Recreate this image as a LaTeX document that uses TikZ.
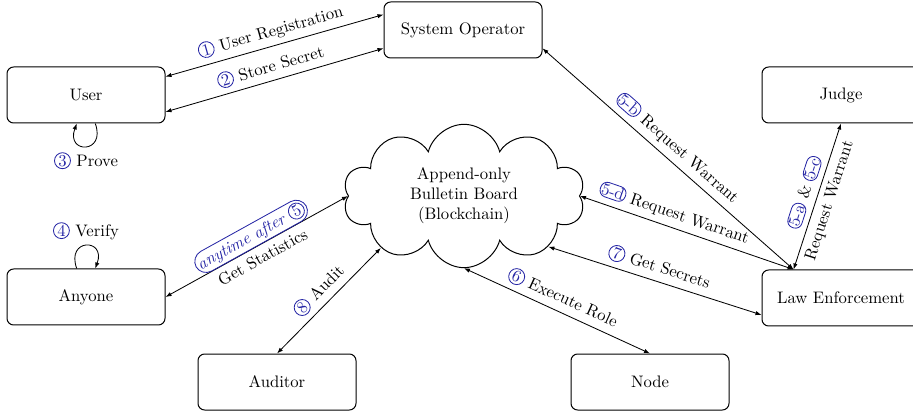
\documentclass[tikz,border=0pt]{standalone}
\usetikzlibrary{shapes.symbols,arrows.meta}

\definecolor{stepblue}{RGB}{38,38,165}

% numbered steps: round for plain numbers, oval for sub-steps
\newcommand{\circnum}[1]{\tikz[baseline=(c.base)]\node[circle,draw=stepblue,text=stepblue,inner sep=0.4pt,line width=0.5pt,font=\upshape](c){#1};}
\newcommand{\ovalnum}[1]{\tikz[baseline=(c.base)]\node[rounded corners=4pt,draw=stepblue,text=stepblue,inner sep=0.9pt,line width=0.5pt](c){#1};}

\tikzset{every picture/.style={line width=0.5pt}}

\begin{document}
\begin{tikzpicture}[x=0.6pt,y=0.6pt,
  party/.style={draw,rounded corners=4pt,minimum width=94.8pt,minimum height=33.6pt,line width=0.6pt},
  conn/.style={{Latex[length=3.6pt,width=2.6pt]}-{Latex[length=3.6pt,width=2.6pt]}},
  selfloop/.style={-{Latex[length=3.6pt,width=2.6pt]}},
  after/.style={draw=stepblue,text=stepblue,rounded corners=7pt,inner sep=1.6pt,font=\itshape}]
\useasboundingbox (0,0) rectangle (913,412);

%Shape: Rectangles
\node[party] (sysop) at (463,382) {System Operator};
\node[party] (user) at (86,317) {User};
\node[party] (judge) at (841,317) {Judge};
\node[party] (anyone) at (86,115) {Anyone};
\node[party] (law) at (841,114) {Law Enforcement};
\node[party] (auditor) at (277,30) {Auditor};
\node[party] (peer) at (650,30) {Node};

%Shape: Cloud
\node[cloud,draw,cloud puffs=10,aspect=1.7,minimum width=145pt,minimum height=86pt,align=center,line width=0.6pt] (board) at (464,216) {Append-only\\Bulletin Board\\(Blockchain)};

%Straight Lines
\draw[conn] (user.13) -- node[above,sloped] {\circnum{1} User Registration} (sysop.169);
\draw[conn] (user.-12) -- node[above,sloped] {\circnum{2} Store Secret} (sysop.193);
\draw[conn] (anyone.east) -- node[above,sloped,after] {anytime after \circnum{5}} node[below,sloped] {Get Statistics} (board.west);
\draw[conn] (auditor.north) -- node[above,sloped] {\circnum{8} Audit} (board.212);
\draw[conn] (board.south) -- node[above,sloped] {\circnum{6} Execute Role} (peer.north);
\draw[conn] (board.-31) -- node[above,sloped] {\circnum{7} Get Secrets} (law.192);
\draw[conn] (board.east) -- node[above,sloped,pos=0.42] {\ovalnum{5-d} Request Warrant} (law.149);
\draw[conn] (sysop.347) -- node[above,sloped] {\ovalnum{5-b} Request Warrant} (law.149);
\draw[conn] (law.149) -- node[above,sloped] {\ovalnum{5-a} \& \ovalnum{5-c}} node[below,sloped] {Request Warrant} (judge.south);

%Loops
\draw[selfloop] (user.-72) to[out=-70,in=-110,looseness=4.5] node[below] {\circnum{3} Prove} (user.-108);
\draw[selfloop] (anyone.108) to[out=110,in=70,looseness=4.5] node[above] {\circnum{4} Verify} (anyone.72);

\end{tikzpicture}
\end{document}
